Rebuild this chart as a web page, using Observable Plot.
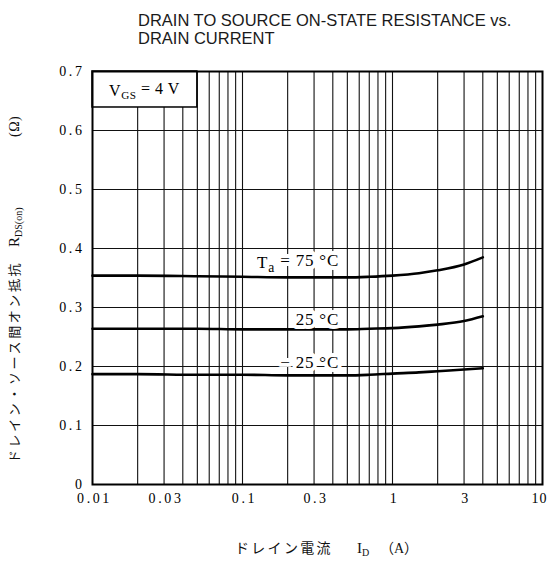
<!DOCTYPE html>
<html>
<head>
<meta charset="utf-8">
<script src="https://cdn.jsdelivr.net/npm/d3@7"></script>
<script src="https://cdn.jsdelivr.net/npm/@observablehq/plot@0.6"></script>
<style>
  html, body { margin: 0; padding: 0; background: white; }
  #chart svg { display: block; }
</style>
</head>
<body>
<div id="chart"></div>
<script>
// ---- data ----
const drainCurrent = [0.01, 0.02, 0.05, 0.1, 0.2, 0.3, 0.5, 0.7, 1, 1.5, 2, 3, 4];
const rds75  = [0.354, 0.354, 0.353, 0.352, 0.351, 0.351, 0.351, 0.352, 0.354, 0.358, 0.363, 0.373, 0.385];
const rds25  = [0.264, 0.264, 0.264, 0.263, 0.263, 0.263, 0.263, 0.264, 0.265, 0.268, 0.271, 0.277, 0.285];
const rdsM25 = [0.187, 0.187, 0.186, 0.186, 0.185, 0.185, 0.185, 0.186, 0.188, 0.190, 0.192, 0.195, 0.197];
const seriesNames = ["75", "25", "-25"];

const xTicks = [0.01, 0.03, 0.1, 0.3, 1, 3, 10];
const xTickLabels = ["0.01", "0.03", "0.1", "0.3", "1", "3", "10"];
const yTicks = [0, 0.1, 0.2, 0.3, 0.4, 0.5, 0.6, 0.7];
const yTickLabels = ["0", "0.1", "0.2", "0.3", "0.4", "0.5", "0.6", "0.7"];
const xGrid = [0.02, 0.03, 0.04, 0.05, 0.06, 0.07, 0.08, 0.09, 0.1,
               0.2, 0.3, 0.4, 0.5, 0.6, 0.7, 0.8, 0.9, 1,
               2, 3, 4, 5, 6, 7, 8, 9];
const yGrid = [0.1, 0.2, 0.3, 0.4, 0.5, 0.6];

const curveLabelText = ["Ta = 75 °C", "25 °C", "− 25 °C"];
const curveLabelX = [0.44, 0.44, 0.44];
const curveLabelY = [0.377, 0.280, 0.207];

const vgsText = "VGS = 4 V";
const vgsBox = {x1: 0.01, x2: 0.05, y1: 0.639, y2: 0.7};
const vgsPos = {x: 0.0222, y: 0.668};

const titleLines = ["DRAIN TO SOURCE ON-STATE RESISTANCE vs.", "DRAIN CURRENT"];

// ---- build tables ----
const seriesValues = [rds75, rds25, rdsM25];
const curves = [];
seriesValues.forEach((vals, s) => {
  vals.forEach((v, i) => curves.push({id: drainCurrent[i], r: v, temp: seriesNames[s]}));
});
const labels = curveLabelText.map((t, i) => ({x: curveLabelX[i], y: curveLabelY[i], t}));
const xTickData = xTicks.map((d, i) => ({v: d, t: xTickLabels[i]}));
const yTickData = yTicks.map((d, i) => ({v: d, t: yTickLabels[i]}));

const serif = "'Liberation Serif', 'DejaVu Serif', serif";

const plot = Plot.plot({
  width: 550,
  height: 566,
  marginLeft: 92,
  marginRight: 8,
  marginTop: 71,
  marginBottom: 82,
  style: {fontFamily: serif, fontSize: "14px", color: "black", background: "white"},
  x: {type: "log", domain: [0.01, 10], label: null, axis: null},
  y: {domain: [0, 0.7], label: null, axis: null},
  marks: [
    Plot.ruleX(xGrid, {stroke: "#111", strokeWidth: 1.1}),
    Plot.ruleY(yGrid, {stroke: "#111", strokeWidth: 1.1}),
    Plot.rect([vgsBox], {x1: "x1", x2: "x2", y1: "y1", y2: "y2", fill: "white", stroke: "black", strokeWidth: 1.5}),
    Plot.line(curves, {x: "id", y: "r", z: "temp", stroke: "black", strokeWidth: 2.6, curve: "monotone-x"}),
    Plot.text(labels, {x: "x", y: "y", text: "t", textAnchor: "end", fill: "black", stroke: "white", strokeWidth: 8, fontSize: 17, fontFamily: serif}),
    Plot.text([vgsPos], {x: "x", y: "y", text: () => vgsText, fill: "black", fontSize: 16, fontFamily: serif}),
    Plot.frame({stroke: "black", strokeWidth: 2}),
    // x tick labels
    Plot.text(xTickData, {x: "v", text: "t", frameAnchor: "bottom", dy: 18, dx: 2, fontSize: 14, fill: "black", fontFamily: serif}),
    // y tick labels
    Plot.text(yTickData, {y: "v", text: "t", frameAnchor: "left", dx: -8, textAnchor: "end", fontSize: 14, fill: "black", fontFamily: serif})
  ]
});

document.getElementById("chart").appendChild(plot);
const svg = d3.select(plot);

// letter spacing for tick labels
const tickSet = new Set([...xTickLabels, ...yTickLabels]);
svg.selectAll("text").filter(function() { return tickSet.has(this.textContent); })
  .attr("letter-spacing", "2.6px");
svg.selectAll("text").filter(function() { return this.textContent === "10"; })
  .attr("letter-spacing", "1px").attr("dx", -5);

// subscripts in labels
svg.selectAll("text").filter(function() { return this.textContent === "Ta = 75 °C"; })
  .each(function() {
    const t = d3.select(this).attr("letter-spacing", "0.8px").text(null);
    t.append("tspan").text("T");
    t.append("tspan").attr("dy", "0.3em").attr("font-size", "0.8em").text("a");
    t.append("tspan").attr("dy", "-0.3em").text(" = 75 °C");
  });
svg.selectAll("text").filter(function() { return this.textContent === "25 °C" || this.textContent === "− 25 °C"; })
  .attr("letter-spacing", "0.8px");
svg.selectAll("text").filter(function() { return this.textContent === vgsText; })
  .each(function() {
    const t = d3.select(this).attr("letter-spacing", "0.5px").text(null);
    t.append("tspan").text("V");
    t.append("tspan").attr("dy", "0.3em").attr("font-size", "0.7em").text("GS");
    t.append("tspan").attr("dy", "-0.3em").text(" = 4 V");
  });

// title
const title = svg.append("text")
  .attr("text-anchor", "start")
  .attr("font-family", "'Liberation Sans', Arial, sans-serif")
  .attr("font-size", 16.5)
  .attr("fill", "#1a1a1a");
titleLines.forEach((line, i) => {
  title.append("tspan").attr("x", 138).attr("y", 25.5 + i * 18.5).text(line);
});

// x-axis title
const cjk = "'Liberation Serif', 'Noto Sans CJK JP', serif";
const xt = svg.append("text")
  .attr("text-anchor", "start")
  .attr("font-family", cjk).attr("font-size", 14).attr("fill", "#111")
  .attr("y", 553);
xt.append("tspan").attr("x", 235).attr("letter-spacing", "2.3px").text("ドレイン電流");
xt.append("tspan").attr("x", 357).attr("font-size", 15).text("I");
xt.append("tspan").attr("dy", 3).attr("font-size", 10).text("D");
xt.append("tspan").attr("x", 380).attr("dy", -3).text("（A）");

// y-axis title (rotated)
const yt = svg.append("text")
  .attr("text-anchor", "start")
  .attr("transform", "translate(18.5,463) rotate(-90)")
  .attr("font-family", cjk).attr("font-size", 13).attr("fill", "#111");
yt.append("tspan").attr("x", 0).attr("letter-spacing", "2.6px").text("ドレイン・ソース間オン抵抗");
yt.append("tspan").attr("x", 216).attr("font-size", 15).text("R");
yt.append("tspan").attr("dy", 3).attr("font-size", 10).text("DS(on)");
yt.append("tspan").attr("x", 326).attr("dy", -3).attr("font-size", 14).attr("letter-spacing", "0.5px").text("(Ω)");
</script>
</body>
</html>
